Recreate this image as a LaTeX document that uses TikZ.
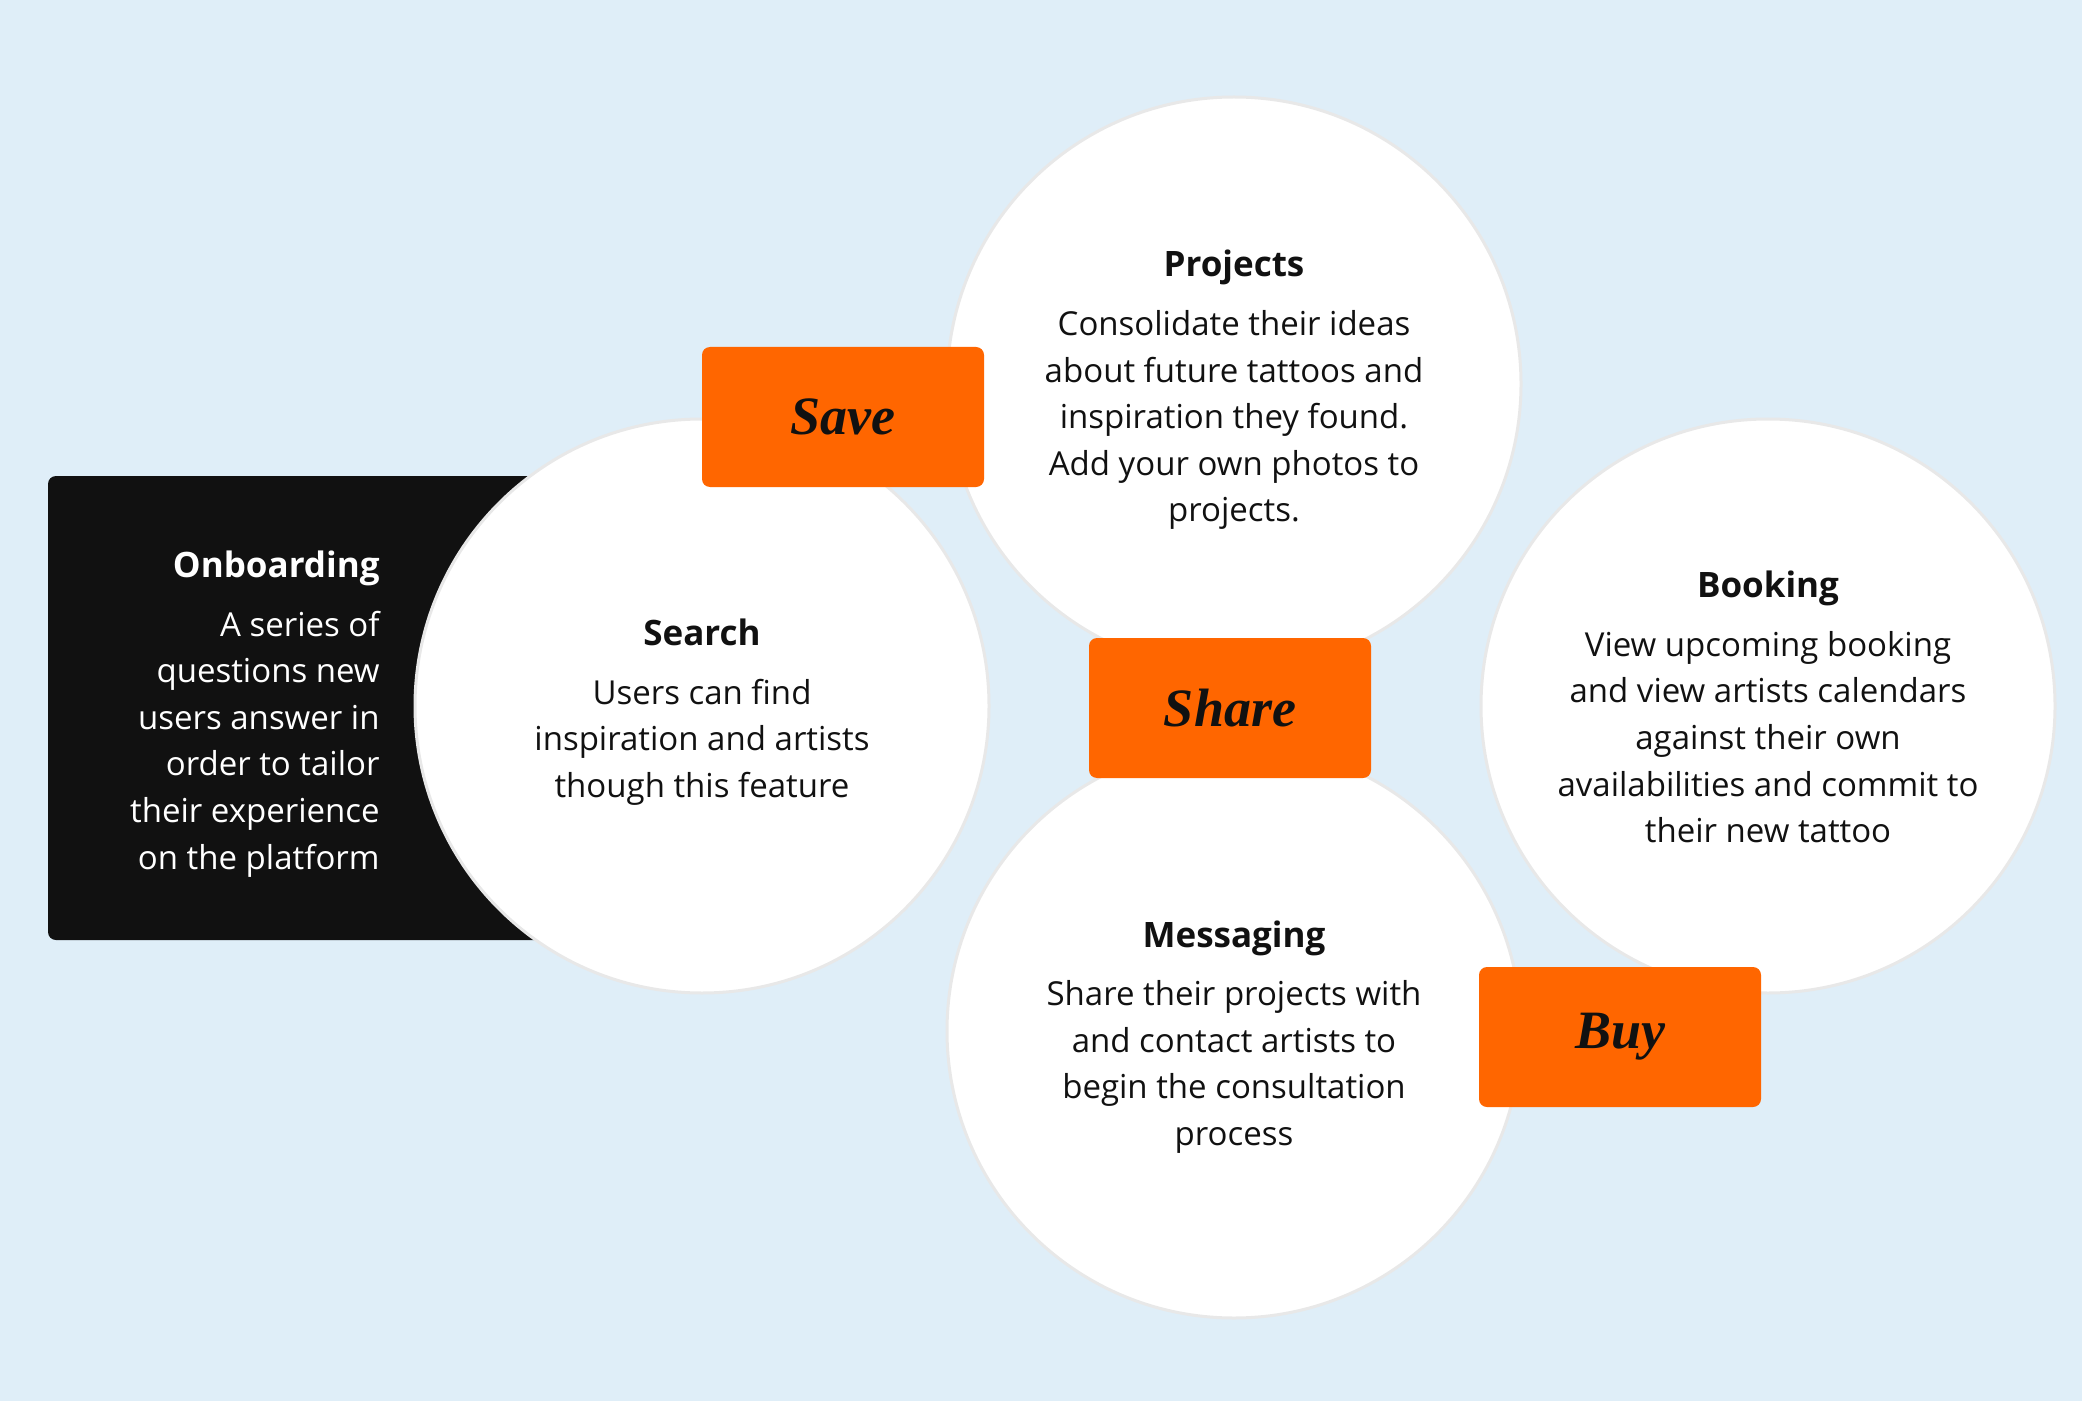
\documentclass[tikz,border=0pt]{standalone}
\usepackage{fontspec}
\setmainfont{Open Sans}
\newfontfamily\tagfont{Liberation Serif}
\usetikzlibrary{positioning}
\definecolor{sky}{RGB}{223,238,248}
\definecolor{tangerine}{RGB}{255,102,0}
\definecolor{ink}{RGB}{17,17,17}
\definecolor{rim}{RGB}{232,232,232}
\newcommand*{\heading}[1]{{\bfseries\fontsize{17.5}{23.3}\selectfont #1}\\[6pt]}
\tikzstyle{bubble} = [circle, draw=rim, line width=1.5pt, fill=white, minimum size=287pt, inner sep=0pt]
\tikzstyle{blurb} = [align=center, text=ink, inner sep=0pt, yshift=-3pt, font=\fontsize{16.5}{23.3}\selectfont]
\tikzstyle{panel} = [rectangle, rounded corners=4pt, fill=ink, minimum width=327pt, minimum height=232pt]
\tikzstyle{tag} = [rectangle, rounded corners=4pt, fill=tangerine, minimum width=141pt, minimum height=70pt, text=ink, font=\tagfont\bfseries\itshape\fontsize{27}{30}\selectfont]

\begin{document}
\begin{tikzpicture}[x=0.5pt, y=-0.5pt]
    % Canvas.
    \fill [sky] (0,0) rectangle (2082,1401);
    \useasboundingbox (0,0) rectangle (2082,1401);

    % Onboarding panel.
    \node (panel) [panel] at (375,708) {};
    \node (onboarding) [blurb, align=right, text=white, anchor=east] at (380,708)
        {\heading{Onboarding}A series of\\questions new\\users answer in\\order to tailor\\their experience\\on the platform};

    % Circles.
    \node (search) [bubble] at (702,706) {};
    \node (projects) [bubble] at (1234,384) {};
    \node (booking) [bubble] at (1768,706) {};
    \node (messaging) [bubble] at (1234,1031) {};

    % Texts.
    \node (search text) [blurb] at (search.center)
        {\heading{Search}Users can find\\inspiration and artists\\though this feature};
    \node (projects text) [blurb] at (projects.center)
        {\heading{Projects}Consolidate their ideas\\about future tattoos and\\inspiration they found.\\Add your own photos to\\projects.};
    \node (booking text) [blurb, yshift=2.5pt] at (booking.center)
        {\heading{Booking}View upcoming booking\\and view artists calendars\\against their own\\availabilities and commit to\\their new tattoo};
    \node (messaging text) [blurb] at (messaging.center)
        {\heading{Messaging}Share their projects with\\and contact artists to\\begin the consultation\\process};

    % Tags.
    \foreach \n/\x/\y/\t in {save/843/417/Save, share/1230/708/Share, buy/1620/1037/Buy} {
        \node (\n) [tag] at (\x,\y) {\t};
    }
\end{tikzpicture}
\end{document}
